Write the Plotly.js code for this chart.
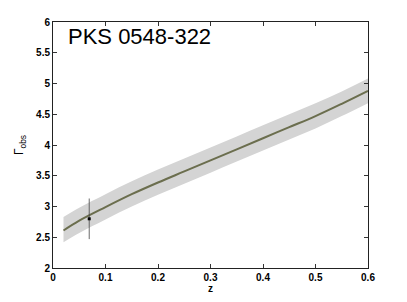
<!DOCTYPE html>
<html>
<head>
<meta charset="utf-8">
<script src="https://cdn.plot.ly/plotly-3.0.1.min.js"></script>
<style>
  html, body { margin: 0; padding: 0; background: #fff; }
  #chart { width: 407px; height: 302px; }
</style>
</head>
<body>
<div id="chart"></div>
<script>
// model curve
const zModel = [0.02, 0.05, 0.1, 0.15, 0.2, 0.25, 0.3, 0.35, 0.4, 0.45, 0.5, 0.55, 0.6];
const gammaModel = [2.61, 2.77, 2.99, 3.20, 3.39, 3.57, 3.75, 3.93, 4.11, 4.29, 4.47, 4.67, 4.88];
const gammaUpper = [2.83, 2.98, 3.20, 3.41, 3.60, 3.78, 3.96, 4.14, 4.32, 4.50, 4.68, 4.87, 5.08];
const gammaLower = [2.42, 2.57, 2.79, 3.00, 3.19, 3.37, 3.55, 3.73, 3.91, 4.09, 4.27, 4.47, 4.68];

// observed source
const zObs = [0.069];
const gammaObs = [2.80];
const gammaErr = [0.33];

const traces = [
  {
    x: zModel, y: gammaLower, mode: 'lines', type: 'scatter',
    line: { width: 0, color: 'rgba(0,0,0,0)', shape: 'spline' }, hoverinfo: 'skip', showlegend: false
  },
  {
    x: zModel, y: gammaUpper, mode: 'lines', type: 'scatter', fill: 'tonexty',
    fillcolor: '#d4d4d4', line: { width: 0, color: 'rgba(0,0,0,0)', shape: 'spline' }, showlegend: false
  },
  {
    x: zModel, y: gammaModel, mode: 'lines', type: 'scatter',
    line: { color: '#6b6e4e', width: 2, shape: 'spline' }, showlegend: false
  },
  {
    x: zObs, y: gammaObs, mode: 'markers', type: 'scatter',
    marker: { color: '#000', size: 3, symbol: 'square' },
    error_y: { type: 'data', array: gammaErr, color: '#444', thickness: 0.8, width: 0 },
    showlegend: false
  }
];

const tickFont = { family: 'Liberation Sans, Arial, sans-serif', size: 10, color: '#000', weight: 'bold' };

const layout = {
  width: 407, height: 302,
  margin: { l: 53, r: 39, t: 22, b: 34 },
  paper_bgcolor: '#fff', plot_bgcolor: '#fff',
  showlegend: false,
  xaxis: {
    range: [0, 0.6], dtick: 0.1, tick0: 0,
    ticks: 'inside', ticklen: 4, tickcolor: '#333', mirror: 'ticks',
    showline: true, linecolor: '#222', linewidth: 1,
    showgrid: false, zeroline: false,
    tickfont: tickFont,
    title: { text: 'z', font: tickFont, standoff: 2 }
  },
  yaxis: {
    range: [2, 6], dtick: 0.5, tick0: 2,
    ticks: 'inside', ticklen: 4, tickcolor: '#333', mirror: 'ticks',
    showline: true, linecolor: '#222', linewidth: 1,
    showgrid: false, zeroline: false,
    tickfont: tickFont,
    title: { text: 'Γ<sub>obs</sub>', font: { family: 'Liberation Sans, Arial, sans-serif', size: 12, color: '#000' }, standoff: 9 }
  },
  annotations: [{
    text: 'PKS 0548-322', xref: 'paper', yref: 'paper', x: 0.04, y: 1.0,
    xanchor: 'left', yanchor: 'top', showarrow: false,
    font: { family: 'Liberation Sans, Arial, sans-serif', size: 22, color: '#000' }
  }]
};

Plotly.newPlot('chart', traces, layout, { displayModeBar: false, staticPlot: true });
</script>
</body>
</html>
